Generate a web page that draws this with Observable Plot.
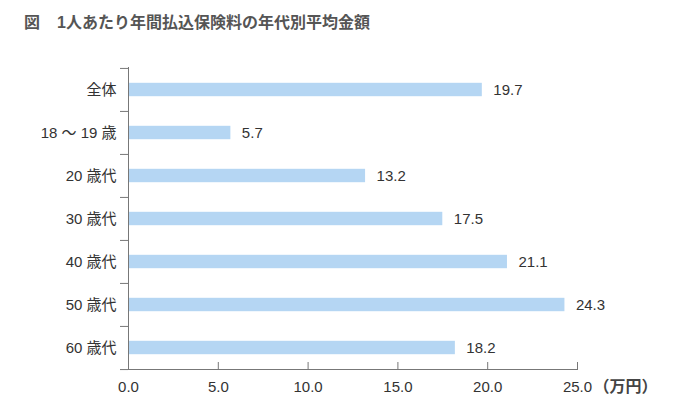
<!DOCTYPE html>
<html><head><meta charset="utf-8">
<script src="https://cdn.jsdelivr.net/npm/d3@7"></script>
<script src="https://cdn.jsdelivr.net/npm/@observablehq/plot@0.6"></script>
<style>
body{margin:0;background:#fff;font-family:"Liberation Sans","Noto Sans CJK JP",sans-serif;}
#title{height:45px;box-sizing:border-box;padding:14px 0 0 24px;font-size:16px;font-weight:bold;color:#555;line-height:18px;white-space:pre;}
#title span{margin-left:17px;}
</style></head>
<body>
<div id="title">図<span>1人あたり年間払込保険料の年代別平均金額</span></div>
<div id="chart"></div>
<script>
const categories = ["全体","18 ～ 19 歳","20 歳代","30 歳代","40 歳代","50 歳代","60 歳代"];
const values = [19.7, 5.7, 13.2, 17.5, 21.1, 24.3, 18.2];
const xTicks = [0, 5, 10, 15, 20, 25];
const unitLabel = "（万円）";

const data = categories.map((c, i) => ({category: c, value: values[i]}));
const W = 696, H = 363, mt = 22, mb = 39, ml = 128, mr = 119;
const step = (H - mt - mb) / categories.length;
const axisColor = "#777";
const textColor = "#333";
const font = '"Liberation Sans","Noto Sans CJK JP",sans-serif';

const chart = Plot.plot({
  width: W, height: H,
  marginTop: mt, marginBottom: mb, marginLeft: ml, marginRight: mr,
  style: {fontFamily: font, fontSize: "15px", color: textColor, background: "#fff"},
  x: {domain: [0, 25]},
  y: {domain: categories, padding: 0},
  marks: [
    Plot.barX(data, {x: "value", y: "category", fill: "#b5d6f3", insetTop: 14.8, insetBottom: 14.8}),
    Plot.text(data, {x: "value", y: "category", text: d => d.value.toFixed(1), textAnchor: "start", dx: 11, fill: textColor, fontSize: 15}),
    // y axis labels
    Plot.axisY({tickSize: 0, tickPadding: 12, color: textColor, fontSize: 15, label: null}),
    // y boundary ticks
    Plot.axisY({tickSize: 8, tickFormat: () => "", dy: -step / 2, stroke: axisColor, label: null}),
    Plot.axisY({ticks: [categories[categories.length - 1]], tickSize: 8, tickFormat: () => "", dy: step / 2, stroke: axisColor, label: null}),
    // x axis labels
    Plot.axisX({ticks: xTicks, tickSize: 0, tickPadding: 12, tickFormat: d => d.toFixed(1), color: textColor, fontSize: 15, label: null}),
    // x axis upward ticks
    Plot.axisX({ticks: xTicks, tickSize: 7, dy: -7, tickFormat: () => "", stroke: axisColor, label: null}),
    Plot.ruleX([0], {stroke: axisColor}),
    Plot.frame({anchor: "bottom", stroke: axisColor}),
    Plot.text([unitLabel], {frameAnchor: "bottom-right", textAnchor: "start", lineAnchor: "top", dx: 16, dy: 11, fontWeight: "bold", fontSize: 16, fill: "#444"})
  ]
});
document.getElementById("chart").appendChild(chart);
</script>
</body></html>
